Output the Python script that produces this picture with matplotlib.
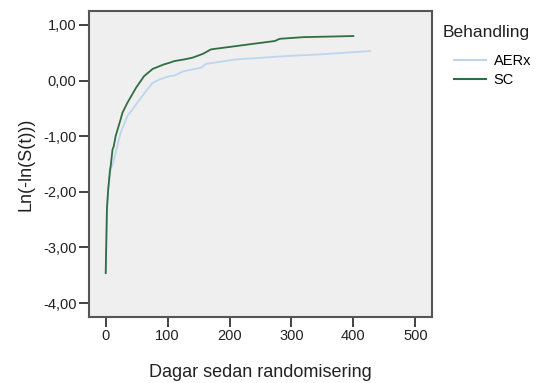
import matplotlib
matplotlib.use("Agg")
import matplotlib.pyplot as plt

plt.rcParams["font.family"] = ["Liberation Sans", "DejaVu Sans"]

# Log-minus-log survival curves
AERX_DAYS = [0, 2, 4, 8, 12, 16, 24, 35, 51, 65, 76, 89, 103, 111, 124,
             127, 154, 162, 211, 292, 346, 427]
AERX_LNLN = [-3.46, -2.3, -1.96, -1.6, -1.48, -1.3, -0.94, -0.64, -0.40,
             -0.19, -0.04, 0.03, 0.08, 0.09, 0.16, 0.17, 0.23, 0.30, 0.38,
             0.44, 0.47, 0.53]

SC_DAYS = [0, 2, 4, 7, 8, 11, 13, 16, 24, 27, 35, 49, 62, 76, 94, 103,
           111, 127, 140, 157, 170, 211, 238, 273, 281, 319, 400]
SC_LNLN = [-3.46, -2.3, -1.96, -1.6, -1.54, -1.24, -1.18, -1.0, -0.70,
           -0.58, -0.40, -0.13, 0.08, 0.21, 0.29, 0.32, 0.35, 0.38, 0.41,
           0.48, 0.56, 0.62, 0.66, 0.71, 0.75, 0.78, 0.80]

GROUPS = ["AERx", "SC"]
COLORS = ["#bcd6ef", "#2f6e44"]

X_TICKS = [0, 100, 200, 300, 400, 500]
Y_TICKS = [1, 0, -1, -2, -3, -4]
Y_TICK_LABELS = ["1,00", "0,00", "-1,00", "-2,00", "-3,00", "-4,00"]

fig = plt.figure(figsize=(5.36, 3.83), dpi=100)
ax = fig.add_axes([89 / 536, 1 - 317 / 383, (432 - 89) / 536, (317 - 11) / 383])
ax.set_facecolor("#efefef")

ax.plot(AERX_DAYS, AERX_LNLN, color=COLORS[0], lw=1.3, label=GROUPS[0])
ax.plot(SC_DAYS, SC_LNLN, color=COLORS[1], lw=1.3, label=GROUPS[1])

ax.set_xlim(-27, 527)
ax.set_ylim(-4.25, 1.25)
ax.set_xticks(X_TICKS)
ax.set_yticks(Y_TICKS)
ax.set_yticklabels(Y_TICK_LABELS)
ax.tick_params(direction="out", length=7, width=1.2, color="#222222",
               labelsize=10.5, labelcolor="#222222", pad=2)

for sp in ax.spines.values():
    sp.set_color("#555555")
    sp.set_linewidth(1.5)

ax.set_xlabel("Dagar sedan randomisering", fontsize=13, color="#222222", labelpad=15)
ax.set_ylabel("Ln(-ln(S(t)))", fontsize=13, color="#222222", labelpad=6)

# legend title as separate text so the entries can sit indented below it
fig.text(443 / 536, 1 - 33 / 383, "Behandling", fontsize=12.5,
         color="#222222", va="center", ha="left")
leg = ax.legend(loc="upper left", bbox_to_anchor=(441 / 536, 1 - 41 / 383),
                bbox_transform=fig.transFigure, frameon=False, fontsize=10.5,
                handlelength=2.2, handletextpad=0.5, labelspacing=0.35)
for h in leg.get_lines():
    h.set_linewidth(1.5)

fig.savefig("out.png", dpi=100)
